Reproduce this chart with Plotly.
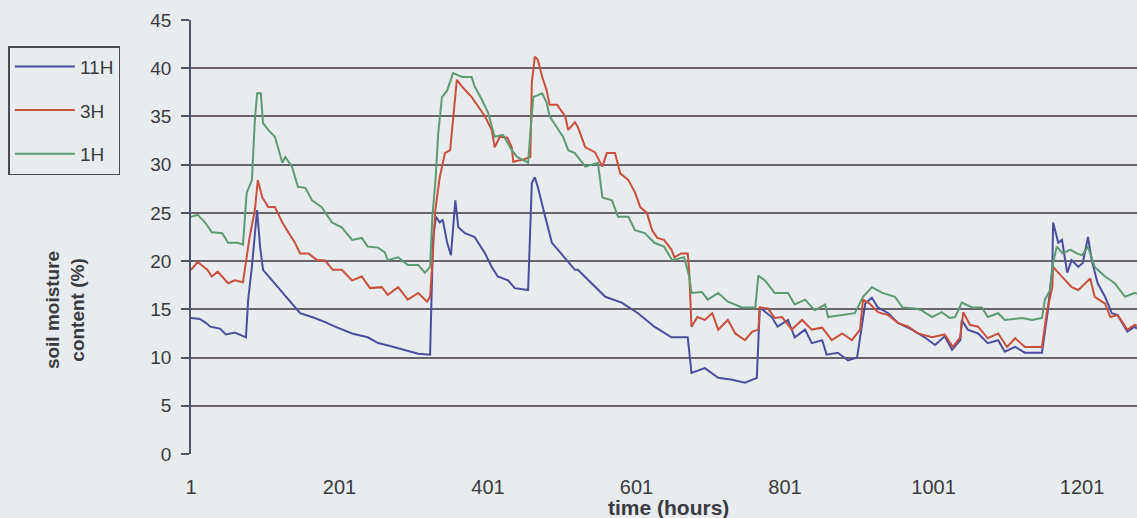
import plotly.graph_objects as go

# ---- data (hour, soil moisture %) ----
h_11H = [1, 13, 21, 27, 40, 48, 60, 71, 75, 78, 83, 90, 94, 98, 110, 124, 137, 148, 164, 181, 195, 218, 239, 253, 269, 289, 307, 323,
         326, 327, 331, 336, 340, 346, 351, 357, 361, 370, 383, 397, 406, 414, 428, 437, 455, 460, 464, 468, 478, 487, 495, 505, 518,
         522, 541, 559, 581, 603, 625, 648, 670, 675, 693, 711, 730, 747, 763, 767, 783, 791, 805, 814, 828, 837, 851, 857, 872, 886,
         898, 909, 918, 926, 940, 953, 972, 989, 1003, 1016, 1026, 1037, 1039, 1047, 1061, 1074, 1088, 1097, 1111, 1124, 1147, 1155,
         1161, 1162, 1169, 1174, 1181, 1187, 1196, 1202, 1209, 1214, 1222, 1232, 1241, 1249, 1262, 1272, 1275]
v_11H = [14.1, 14.0, 13.6, 13.2, 13.0, 12.4, 12.6, 12.2, 12.1, 16.0, 19.4, 25.3, 21.5, 19.1, 18.0, 16.7, 15.6, 14.6, 14.2, 13.7, 13.2,
         12.5, 12.1, 11.5, 11.2, 10.8, 10.4, 10.3,
         17.7, 22.5, 24.6, 24.0, 24.3, 21.9, 20.6, 26.3, 23.5, 22.9, 22.5, 20.8, 19.4, 18.4, 18.0, 17.2, 17.0, 28.1, 28.7, 27.7, 24.6,
         21.9, 21.2, 20.3, 19.1,
         19.1, 17.7, 16.3, 15.7, 14.6, 13.2, 12.1, 12.1, 8.4, 8.9, 7.9, 7.7, 7.4, 7.9, 15.2, 14.2, 13.2, 13.9, 12.1, 12.9, 11.5, 11.8,
         10.3, 10.5, 9.7,
         10.0, 15.6, 16.2, 15.2, 14.6, 13.6, 12.9, 12.1, 11.3, 12.2, 10.8, 11.8, 13.9, 12.9, 12.5, 11.5, 11.8, 10.6, 11.1, 10.5, 10.5,
         14.9,
         19.4, 24.0, 21.9, 22.2, 18.8, 20.1, 19.4, 19.8, 22.5, 20.1, 17.7, 16.3, 14.6, 14.4, 12.7, 13.2, 13.0]

h_3H = [1, 10, 23, 29, 37, 51, 60, 71, 74, 80, 87, 91, 97, 105, 114, 124, 132, 141, 148, 159, 171, 181, 192, 204, 218, 231, 242, 258,
        266, 280, 293, 307, 319, 323, 326, 330, 336, 343, 350, 354, 359, 366, 379, 388, 397, 406, 410, 417, 427, 433, 435, 447, 458,
        460, 464, 468, 474, 480, 484, 494, 505, 509, 518, 522, 532, 545, 555, 561, 572, 579, 590, 599, 606, 615, 622, 629, 638, 648,
        652, 661, 670, 672, 675, 683, 693, 703, 711, 724, 734, 747, 757, 765, 767, 778, 787, 797, 810, 824, 837, 851, 864, 878, 891,
        902, 906, 915, 926, 940, 953, 967, 980, 999, 1016, 1027, 1037, 1041, 1050, 1061, 1074, 1088, 1100, 1111, 1124, 1147, 1154,
        1161, 1162, 1169, 1178, 1187, 1196, 1205, 1212, 1218, 1232, 1239, 1249, 1262, 1272, 1275]
v_3H = [19.1, 19.9, 19.1, 18.4, 18.9, 17.7, 18.0, 17.8, 19.4, 22.5, 25.3, 28.4, 26.6, 25.6, 25.6, 24.0, 23.0, 21.9, 20.8, 20.8, 20.1,
        20.1, 19.1, 19.1, 18.0, 18.4, 17.2, 17.3,
        16.5, 17.3, 16.0, 16.7, 15.8, 16.3, 19.8, 25.3, 28.7, 31.2, 31.5, 35.0, 38.8, 38.1, 37.0, 36.0, 35.0, 33.6, 31.8, 32.9, 32.8,
        31.8, 30.3, 30.5, 30.8,
        38.5, 41.2, 40.9, 39.1, 37.7, 36.2, 36.2, 35.0, 33.6, 34.4, 33.9, 31.8, 31.3, 29.8, 31.2, 31.2, 29.1, 28.4, 27.1, 25.6, 25.0,
        23.2, 22.4, 22.2, 21.2,
        20.4, 20.8, 20.8, 18.8, 13.2, 14.2, 13.9, 14.6, 12.9, 13.9, 12.5, 11.8, 12.7, 12.9, 15.2, 15.1, 14.1, 14.2, 12.9, 13.9, 12.9,
        13.1, 11.8, 12.5, 11.8,
        12.9, 16.0, 15.6, 14.7, 14.4, 13.6, 13.2, 12.5, 12.1, 12.4, 11.1, 12.1, 14.7, 13.4, 13.2, 12.0, 12.5, 11.1, 12.0, 11.1, 11.1,
        14.9,
        17.3, 19.4, 18.8, 18.0, 17.3, 17.0, 17.7, 18.2, 16.3, 15.6, 14.2, 14.4, 12.9, 13.4, 13.3]

h_1H = [1, 10, 20, 29, 43, 51, 64, 71, 76, 83, 87, 90, 95, 98, 105, 114, 124, 128, 137, 145, 155, 164, 177, 191, 204, 218, 231, 239,
        253, 262, 266, 280, 293, 307, 316, 323, 326, 330, 334, 339, 346, 354, 366, 379, 383, 393, 401, 410, 421, 433, 440, 455, 458,
        462, 474, 480, 484, 494, 502, 509, 518, 532, 549, 555, 568, 576, 590, 599, 612, 625, 638, 649, 665, 672, 675, 689, 697, 711,
        724, 743, 761, 765, 774, 787, 805, 814, 828, 841, 855, 859, 878, 895, 906, 918, 932, 949, 959, 976, 985, 999, 1012, 1023,
        1030, 1039, 1053, 1066, 1074, 1088, 1097, 1120, 1134, 1147, 1151, 1158, 1162, 1167, 1175, 1185, 1194, 1201, 1209, 1218,
        1232, 1245, 1259, 1272, 1275]
v_1H = [24.6, 24.8, 24.0, 23.0, 22.9, 21.9, 21.9, 21.7, 27.1, 28.4, 34.6, 37.4, 37.4, 34.3, 33.6, 32.9, 30.2, 30.8, 29.8, 27.7, 27.6,
        26.3, 25.6, 24.0, 23.5, 22.2, 22.4, 21.5,
        21.4, 20.9, 20.1, 20.4, 19.6, 19.6, 18.8, 19.4, 24.6, 28.1, 33.3, 37.0, 37.7, 39.5, 39.1, 39.1, 38.1, 36.7, 35.4, 32.9, 33.1,
        31.5, 30.8, 30.2, 33.3,
        37.0, 37.4, 36.4, 35.0, 33.9, 32.9, 31.5, 31.2, 29.8, 30.2, 26.6, 26.3, 24.6, 24.6, 23.2, 22.9, 21.9, 21.5, 20.1, 20.4, 18.4,
        16.7, 16.8, 16.0, 16.7,
        15.8, 15.2, 15.2, 18.5, 18.0, 16.7, 16.7, 15.5, 16.0, 14.9, 15.5, 14.2, 14.4, 14.6, 16.3, 17.3, 16.7, 16.3, 15.2, 15.1, 14.9,
        14.2, 14.7, 14.1,
        14.2, 15.7, 15.2, 15.2, 14.2, 14.6, 13.9, 14.1, 13.9, 14.1, 16.0, 17.0, 19.8, 21.5, 20.8, 21.2, 20.8, 20.6, 21.5, 19.4,
        18.4, 17.7, 16.3, 16.7, 16.6]

series_names = ["11H", "3H", "1H"]
x_tick_vals = [1, 201, 401, 601, 801, 1001, 1201]
x_tick_text = ["1", "201", "401", "601", "801", "1001", "1201"]
y_tick_vals = [0, 5, 10, 15, 20, 25, 30, 35, 40, 45]

colors = ["#4a4e9c", "#c94f3e", "#5e9a72"]
BG = "#e8ecef"
TXT = "#3a3a3e"
FONT = "Liberation Sans, Arial, sans-serif"

fig = go.Figure()
for name, hx, vy, c in zip(series_names, [h_11H, h_3H, h_1H], [v_11H, v_3H, v_1H], colors):
    fig.add_trace(go.Scatter(x=hx, y=vy, mode="lines", name=name, legendgroup=name,
                             line=dict(color=c, width=2)))

fig.update_layout(
    width=1137, height=518,
    margin=dict(l=191, r=0, t=20, b=64),
    paper_bgcolor=BG, plot_bgcolor=BG,
    font=dict(family=FONT, color=TXT, size=19),
    showlegend=True,
    legend=dict(x=-0.193, y=0.94, xanchor="left", yanchor="top",
                bordercolor="#4a4a50", borderwidth=1.5, bgcolor="rgba(0,0,0,0)",
                font=dict(size=19, color=TXT), tracegroupgap=16, itemwidth=60),
    xaxis=dict(range=[1, 1275], tickvals=x_tick_vals, ticktext=x_tick_text,
               showgrid=False, zeroline=False, showline=False, ticks="",
               ticklabelstandoff=19, tickfont=dict(size=20, color=TXT)),
    yaxis=dict(range=[0, 45], tickvals=y_tick_vals, showgrid=True,
               gridcolor="#6a636c", gridwidth=1.5, zeroline=False,
               showline=True, linecolor="#4f5568", linewidth=1.5,
               ticks="outside", ticklen=8, tickcolor="#4f5568", tickwidth=1.5,
               ticklabelstandoff=6, tickfont=dict(size=19, color=TXT)),
)

fig.add_annotation(text="<b>soil moisture<br>content (%)</b>", textangle=-90,
                   xref="paper", yref="paper", x=-0.133, y=0.332,
                   xanchor="center", yanchor="middle", showarrow=False,
                   font=dict(size=19, color=TXT, family=FONT))
fig.add_annotation(text="<b>time (hours)</b>",
                   xref="paper", yref="paper", x=0.505, y=-0.124,
                   xanchor="center", yanchor="middle", showarrow=False,
                   font=dict(size=21, color=TXT, family=FONT))

fig.write_html("out.html")
